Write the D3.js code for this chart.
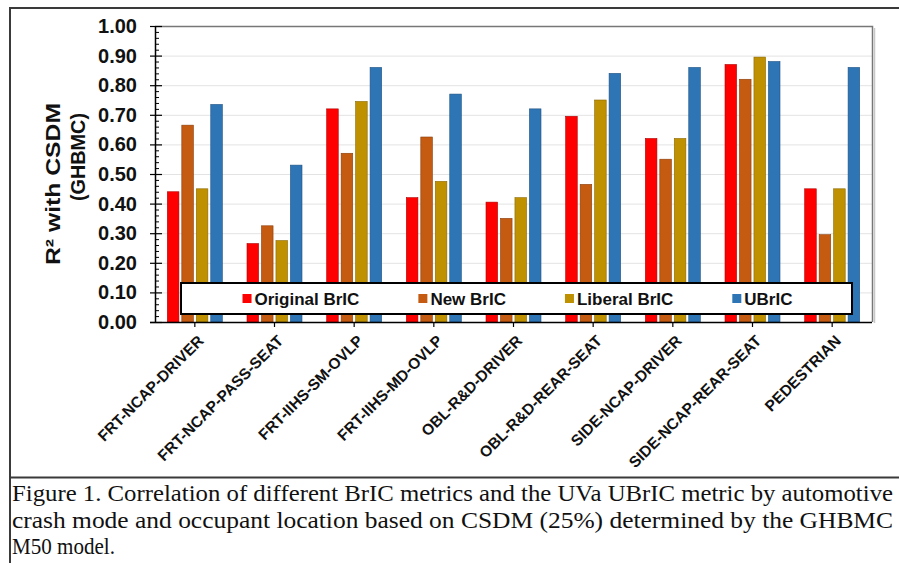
<!DOCTYPE html>
<html>
<head>
<meta charset="utf-8">
<script src="https://cdn.jsdelivr.net/npm/d3@7"></script>
<style>
  body { margin: 0; background: #fff; }
  svg { display: block; }
  .tick-label { font-family: Arial, "Liberation Sans", sans-serif; font-weight: bold; }
</style>
</head>
<body>
<div id="chart"></div>
<script>
// data
const categories = ["FRT-NCAP-DRIVER", "FRT-NCAP-PASS-SEAT", "FRT-IIHS-SM-OVLP", "FRT-IIHS-MD-OVLP",
    "OBL-R&D-DRIVER", "OBL-R&D-REAR-SEAT", "SIDE-NCAP-DRIVER", "SIDE-NCAP-REAR-SEAT", "PEDESTRIAN"];
const seriesNames = ["Original BrIC", "New BrIC", "Liberal BrIC", "UBrIC"];
const originalBrIC = [0.44, 0.265, 0.72, 0.42, 0.405, 0.695, 0.62, 0.87, 0.45];
const newBrIC      = [0.665, 0.325, 0.57, 0.625, 0.35, 0.465, 0.55, 0.82, 0.295];
const liberalBrIC  = [0.45, 0.275, 0.745, 0.475, 0.42, 0.75, 0.62, 0.895, 0.45];
const uBrIC        = [0.735, 0.53, 0.86, 0.77, 0.72, 0.84, 0.86, 0.88, 0.86];
const yTicks = [0, 0.1, 0.2, 0.3, 0.4, 0.5, 0.6, 0.7, 0.8, 0.9, 1.0];
const captionLines = [
    "Figure 1. Correlation of different BrIC metrics and the UVa UBrIC metric by automotive",
    "crash mode and occupant location based on CSDM (25%) determined by the GHBMC",
    "M50 model."
];

const colors = ["#ff0000", "#c55a11", "#bf9000", "#2e75b6"];
const edges  = ["#b00000", "#8a3d0a", "#8a6800", "#1f5282"];

const W = 899, H = 563;
const plot = {left: 155, right: 872, top: 26, bottom: 322};
const sans = 'Arial, "Liberation Sans", sans-serif';

const data = categories.map((c, i) => ({
    cat: c,
    vals: [originalBrIC[i], newBrIC[i], liberalBrIC[i], uBrIC[i]]
}));

const svg = d3.select("#chart").append("svg")
    .attr("width", W)
    .attr("height", H);

svg.append("rect").attr("width", W).attr("height", H).attr("fill", "#fff");

// outer frame lines
const frame = svg.append("g").attr("stroke", "#3a3a3a").attr("stroke-width", 2).attr("fill", "none");
frame.append("path").attr("d", `M10,563 V8 H${W}`);
frame.append("line").attr("x1", 10).attr("x2", W).attr("y1", 477.5).attr("y2", 477.5);

// scales
const x0 = d3.scaleBand().domain(categories).range([plot.left, plot.right]);
const bw = x0.bandwidth();
const x1 = d3.scaleBand().domain(seriesNames)
    .range([(bw - 55) / 2, (bw + 55) / 2]).paddingInner(0.2);
const y = d3.scaleLinear().domain([0, 1]).range([plot.bottom, plot.top]);

// gridlines
svg.append("g")
    .selectAll("line")
    .data(yTicks.slice(1))
    .join("line")
    .attr("x1", plot.left).attr("x2", plot.right)
    .attr("y1", d => y(d) + 0.5).attr("y2", d => y(d) + 0.5)
    .attr("stroke", "#e3e3e3").attr("stroke-width", 1);

// plot area border (top + right)
svg.append("path")
    .attr("d", `M${plot.left},${plot.top + 0.5} H${plot.right + 0.5} V${plot.bottom}`)
    .attr("fill", "none").attr("stroke", "#777").attr("stroke-width", 1.5);
svg.append("line")
    .attr("x1", plot.right + 2.5).attr("x2", plot.right + 2.5)
    .attr("y1", plot.top + 2).attr("y2", plot.bottom + 1)
    .attr("stroke", "#c8c8c8").attr("stroke-width", 1.5);

// bars
const groups = svg.append("g")
    .selectAll("g")
    .data(data)
    .join("g")
    .attr("transform", d => `translate(${x0(d.cat)},0)`);

groups.selectAll("rect")
    .data(d => d.vals.map((v, k) => ({name: seriesNames[k], v: v, k: k})))
    .join("rect")
    .attr("x", d => x1(d.name))
    .attr("width", x1.bandwidth())
    .attr("y", d => y(d.v))
    .attr("height", d => y(0) - y(d.v))
    .attr("fill", d => colors[d.k])
    .attr("stroke", d => edges[d.k])
    .attr("stroke-width", 0.6);

// y axis: major ticks crossing, minor ticks inside
const yAxis = d3.axisLeft(y).tickValues(yTicks).tickFormat(d3.format(".2f"))
    .tickSize(5).tickSizeOuter(0).tickPadding(13);
const yAxisG = svg.append("g")
    .attr("transform", `translate(${plot.left},0)`)
    .call(yAxis);
yAxisG.select(".domain").attr("stroke", "#000").attr("stroke-width", 1.5);
yAxisG.selectAll(".tick line").attr("stroke", "#000").attr("stroke-width", 1.2).attr("x2", 7).attr("x1", -5);
yAxisG.selectAll(".tick text")
    .attr("class", "tick-label")
    .attr("font-size", 20)
    .attr("fill", "#111");

const minorTicks = d3.range(0, 51).map(i => i / 50).filter(v => Math.round(v * 50) % 5 !== 0);
svg.append("g")
    .attr("transform", `translate(${plot.left},0)`)
    .call(d3.axisRight(y).tickValues(minorTicks).tickSize(4).tickFormat(""))
    .call(g => g.select(".domain").remove())
    .selectAll(".tick line").attr("stroke", "#000").attr("stroke-width", 1);

// x axis
const xAxisG = svg.append("g")
    .attr("transform", `translate(0,${plot.bottom})`)
    .call(d3.axisBottom(x0).tickSize(5).tickSizeOuter(0).tickPadding(6));
xAxisG.select(".domain")
    .attr("d", `M${plot.left - 5},0.5 H${plot.right}`)
    .attr("stroke", "#000").attr("stroke-width", 1.5);
xAxisG.selectAll(".tick line").attr("stroke", "#000").attr("stroke-width", 1.2);
xAxisG.selectAll(".tick text")
    .attr("class", "tick-label")
    .attr("font-size", 15.5)
    .attr("fill", "#111")
    .attr("text-anchor", "end")
    .attr("dy", 0)
    .attr("transform", "translate(2,12) rotate(-45)");

// y axis title
const yTitle = svg.append("g").attr("font-family", sans).attr("font-weight", "bold")
    .attr("font-size", 21).attr("fill", "#111").attr("text-anchor", "middle");
yTitle.append("text")
    .attr("transform", "translate(53,184) rotate(-90)")
    .attr("dy", "0.35em")
    .attr("textLength", 162)
    .attr("lengthAdjust", "spacingAndGlyphs")
    .text("R² with CSDM");
yTitle.append("text")
    .attr("transform", "translate(78,157) rotate(-90)")
    .attr("dy", "0.35em")
    .attr("textLength", 88)
    .attr("lengthAdjust", "spacingAndGlyphs")
    .text("(GHBMC)");

// legend
const legend = svg.append("g");
legend.append("rect")
    .attr("x", 181).attr("y", 283).attr("width", 671).attr("height", 31)
    .attr("fill", "#fff").attr("stroke", "#000").attr("stroke-width", 2);

const items = legend.append("g").attr("font-family", sans).attr("font-weight", "bold")
    .attr("font-size", 17).attr("fill", "#111");
let cursor = 0;
seriesNames.forEach((name, k) => {
    const it = items.append("g").attr("transform", `translate(${cursor},0)`);
    it.append("rect").attr("x", 0).attr("y", -5).attr("width", 9).attr("height", 9).attr("fill", colors[k]);
    const t = it.append("text").attr("x", 12).attr("dy", "0.35em").text(name);
    cursor += 12 + t.node().getComputedTextLength() + 59;
});
const itemsWidth = cursor - 59;
items.attr("transform", `translate(${181 + 671 / 2 - itemsWidth / 2 + 1},299)`);

// caption
const capWidths = [881, 881, 103];
const cap = svg.append("g").attr("font-family", '"Times New Roman", "Liberation Serif", Times, serif')
    .attr("font-size", 23).attr("fill", "#111");
cap.selectAll("text")
    .data(captionLines)
    .join("text")
    .attr("x", 12)
    .attr("y", (d, i) => 501 + i * 26.5)
    .attr("textLength", (d, i) => capWidths[i])
    .attr("lengthAdjust", "spacingAndGlyphs")
    .text(d => d);
</script>
</body>
</html>
